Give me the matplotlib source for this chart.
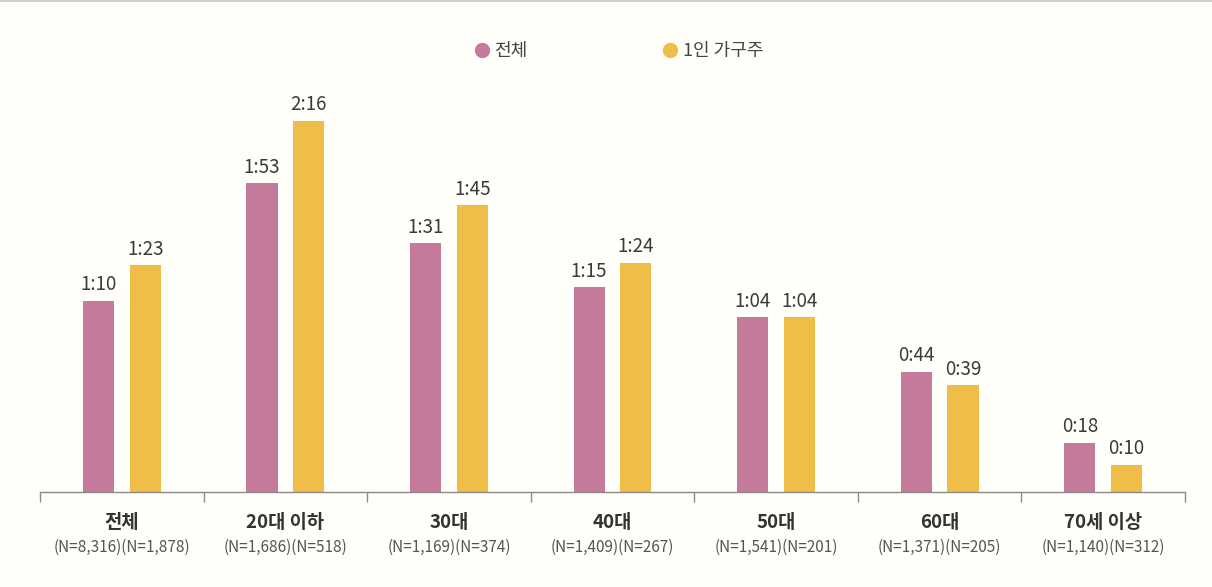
import matplotlib.pyplot as plt
from matplotlib.lines import Line2D
from matplotlib.transforms import blended_transform_factory

plt.rcParams['font.family'] = ['Noto Sans CJK KR', 'DejaVu Sans']

categories = ['전체', '20대 이하', '30대', '40대', '50대', '60대', '70세 이상']
n_labels = ['(N=8,316)(N=1,878)', '(N=1,686)(N=518)', '(N=1,169)(N=374)', '(N=1,409)(N=267)',
            '(N=1,541)(N=201)', '(N=1,371)(N=205)', '(N=1,140)(N=312)']
# minutes
total = [70, 113, 91, 75, 64, 44, 18]
single = [83, 136, 105, 84, 64, 39, 10]
series_names = ['전체', '1인 가구주']

pink = '#c47a9b'
yellow = '#efbd48'
bg = '#fffef8'


def fmt(m):
    return '%d:%02d' % (m // 60, m % 60)


fig = plt.figure(figsize=(12.12, 5.87), dpi=100, facecolor=bg)
ax = fig.add_axes([40 / 1212, 1 - 492 / 587, 1145 / 1212, 437 / 587])
ax.set_facecolor(bg)

x = list(range(len(categories)))
w = 0.19
off = 0.143
b1 = ax.bar([i - off for i in x], total, w, color=pink)
b2 = ax.bar([i + off for i in x], single, w, color=yellow)

for bars, vals in [(b1, total), (b2, single)]:
    for b, v in zip(bars, vals):
        ax.annotate(fmt(v), (b.get_x() + b.get_width() / 2, v), xytext=(0, 4),
                    textcoords='offset points', ha='center', va='bottom',
                    fontsize=13.5, color='#3a3a3a')

ax.set_xlim(-0.5, len(categories) - 0.5)
ax.set_ylim(0, 160)
for s in ['top', 'right', 'left']:
    ax.spines[s].set_visible(False)
ax.spines['bottom'].set_color('#8a8a8a')
ax.spines['bottom'].set_linewidth(1.0)
ax.set_yticks([])
ax.set_xticks([i - 0.5 for i in range(len(categories) + 1)])
ax.set_xticklabels([])
ax.tick_params(axis='x', length=7, color='#8a8a8a', width=1.0)

tr = blended_transform_factory(ax.transData, fig.transFigure)
for i, (c, n) in enumerate(zip(categories, n_labels)):
    ax.text(i, 1 - 522 / 587, c, transform=tr, ha='center', va='center',
            fontsize=13.5, fontweight='bold', color='#333333')
    ax.text(i, 1 - 547 / 587, n, transform=tr, ha='center', va='center',
            fontsize=11, color='#555555')

handles = [Line2D([], [], marker='o', linestyle='none', markersize=10, color=pink),
           Line2D([], [], marker='o', linestyle='none', markersize=10, color=yellow)]
fig.legend(handles, series_names, loc='center', bbox_to_anchor=(619 / 1212, 1 - 51 / 587),
           ncol=2, frameon=False, fontsize=13, handlelength=0.8, handletextpad=0.3,
           columnspacing=7.5, labelcolor='#444444')

# thin border at the top of the image
fig.add_artist(Line2D([0, 1], [0.999, 0.999], color='#cfcfcf', linewidth=1.5,
                      transform=fig.transFigure))

fig.savefig('out.png', dpi=100, facecolor=bg)
